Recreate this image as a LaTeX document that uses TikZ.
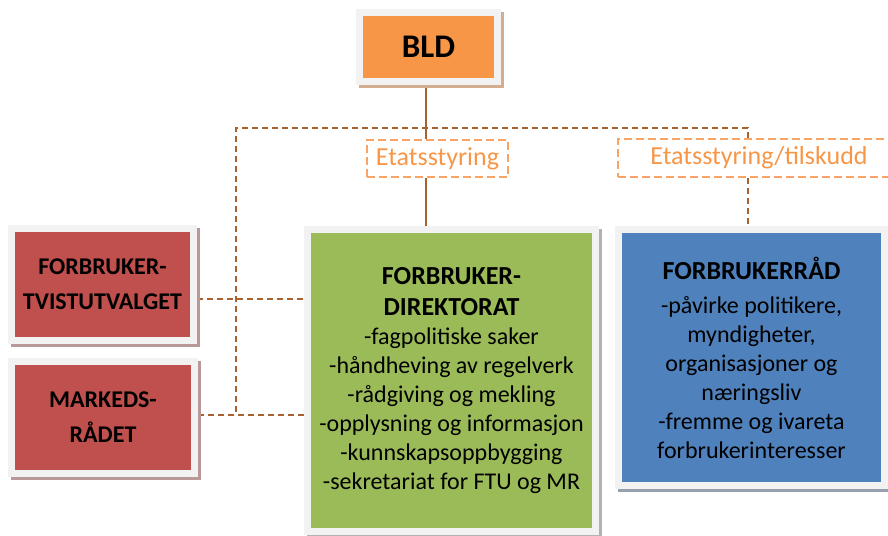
\documentclass[tikz,border=0pt]{standalone}
\usepackage{fontspec}
\setmainfont{Carlito}
\usetikzlibrary{shadows,backgrounds}

\definecolor{bldorange}{HTML}{F79646}
\definecolor{unitred}{HTML}{C0504D}
\definecolor{unitgreen}{HTML}{9BBB59}
\definecolor{unitblue}{HTML}{4F81BD}
\definecolor{framegray}{HTML}{F2F2F2}
\definecolor{linkbrown}{HTML}{A8622E}
\definecolor{labelorange}{HTML}{F9A364}
\definecolor{bldshadow}{HTML}{D4AC8E}
\definecolor{redshadow}{HTML}{B89898}
\definecolor{blueshadow}{HTML}{96A0B0}

\newcommand\headline[1]{{\bfseries\fontsize{26}{32}\selectfont #1}}

\tikzset{
  unit/.style={draw=framegray, line width=7pt, inner sep=0pt, align=center, text=black,
    font=\fontsize{24}{29}\selectfont},
  shade/.style={general shadow={fill=#1, draw=#1, line width=7pt, shadow xshift=3pt, shadow yshift=-3pt}},
  link/.style={linkbrown, line width=2pt},
  ctrl/.style={linkbrown, line width=2pt, dash pattern=on 6pt off 4pt},
  tag/.style={draw=labelorange, line width=2pt, dash pattern=on 8pt off 4pt, inner sep=0pt,
    text=bldorange, font=\fontsize{26}{30}\selectfont}
}

\begin{document}
\begin{tikzpicture}[x=1pt,y=-1pt]
\useasboundingbox (0,0) rectangle (888,535);

\node[unit, fill=bldorange, shade=bldshadow, minimum width=138, minimum height=69,
  font=\bfseries\fontsize{33}{36}\selectfont] (bld) at (428.5,47) {BLD};

\node[tag, minimum width=141, minimum height=37] (etat) at (437.5,158.5) {Etatsstyring};
\node[tag, minimum width=282, minimum height=38] (tilskudd) at (759,158) {Etatsstyring/tilskudd};

\node[unit, fill=unitred, shade=redshadow, minimum width=182, minimum height=112,
  font=\bfseries\fontsize{24}{35}\selectfont] (ftu) at (102.5,284.5) {FORBRUKER-\\TVISTUTVALGET};
\node[unit, fill=unitred, shade=redshadow, minimum width=183, minimum height=112,
  font=\bfseries\fontsize{24}{35}\selectfont] (mr) at (103,417.5) {MARKEDS-\\RÅDET};

\node[unit, fill=unitgreen, shade=black!30, minimum width=288, minimum height=302] (direktorat) at (451.5,380.5)
  {\headline{FORBRUKER-}\\[2pt]\headline{DIREKTORAT}\\-fagpolitiske saker\\-håndheving av regelverk\\
   -rådgiving og mekling\\-opplysning og informasjon\\-kunnskapsoppbygging\\-sekretariat for FTU og MR};

\node[unit, fill=unitblue, shade=blueshadow, minimum width=266, minimum height=256] (raad) at (751.5,357.5)
  {\headline{FORBRUKERRÅD}\\[5pt]-påvirke politikere,\\myndigheter,\\organisasjoner og\\næringsliv\\
   -fremme og ivareta\\forbrukerinteresser};

\begin{scope}[on background layer]
\coordinate (stem) at ([xshift=-2.5pt]bld.south);
\draw[link] (stem) -- (stem |- etat.north);
\draw[link] (stem |- etat.south) -- (stem |- direktorat.north);
\coordinate (split) at (236,128);
\coordinate (raadin) at ([xshift=-3.5pt]raad.north);
\coordinate (mrout) at ([yshift=2.5pt]mr.east);
\coordinate (ftuout) at ([yshift=-14.5pt]ftu.east);
\draw[ctrl] (tilskudd.north -| raadin) |- (split) -- (split |- mrout);
\draw[ctrl] (mrout) -- (mrout -| direktorat.west);
\draw[ctrl] (ftuout) -- (ftuout -| direktorat.west);
\draw[ctrl] (tilskudd.south -| raadin) -- (raadin);
\end{scope}

\end{tikzpicture}
\end{document}
